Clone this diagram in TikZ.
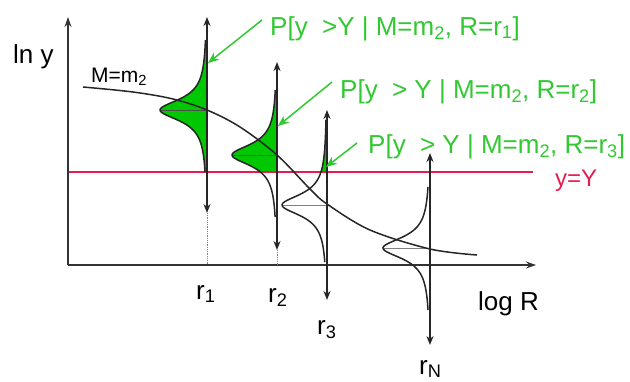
\documentclass[tikz,border=0pt]{standalone}
\usepackage{fontspec}
\setmainfont{Liberation Sans}
\usetikzlibrary{arrows.meta}
\definecolor{fillgreen}{RGB}{0,200,0}
\definecolor{txtgreen}{RGB}{50,200,50}
\definecolor{redline}{RGB}{230,30,80}
\begin{document}
\begin{tikzpicture}[x=1pt,y=-1pt,
  axisline/.style={line width=1.6pt, draw=black!80, -{Stealth[length=10pt,width=7pt]}},
  dblarrow/.style={line width=1.5pt, draw=black!85, {Stealth[length=9pt,width=7pt]}-{Stealth[length=9pt,width=7pt]}},
  pdfline/.style={line width=1.5pt, draw=black!85},
  meanline/.style={draw=gray, line width=1pt},
  guide/.style={draw=gray, densely dotted, line width=0.8pt},
  callout/.style={draw=txtgreen, line width=1.5pt, -{Stealth[length=11pt,width=9pt]}},
  lbl/.style={font=\fontsize{26}{30}\selectfont, inner sep=0pt, anchor=base west},
  glbl/.style={lbl, text=txtgreen},
]
\useasboundingbox (0,0) rectangle (630,381);

% green fills (y > Y)
\fill[fillgreen] (207,40) -- plot[domain=40:172, samples=90, variable=\t] ({207-47/(1+((\t-110)/13)^2)}, \t) -- (207,172) -- cycle;
\fill[fillgreen] (277,90) -- plot[domain=90:172, samples=80, variable=\t] ({277-45/(1+((\t-155)/13)^2)}, \t) -- (277,172) -- cycle;
\fill[fillgreen] (327,120) -- plot[domain=120:172, samples=60, variable=\t] ({327-45/(1+((\t-205)/13)^2)}, \t) -- (327,172) -- cycle;

% mean lines
\draw[meanline, draw=black!70] (160,110) -- (207,110);
\draw[meanline, draw=black!70] (232,155) -- (277,155);
\draw[meanline] (282,205) -- (327,205);
\draw[meanline] (383,248) -- (430,248);

% red threshold line
\draw[redline, line width=1.2pt] (68,172) -- (533,172);

% axes
\coordinate (O) at (68,265);
\coordinate (ytip) at (68,17);
\coordinate (xtip) at (536,265);
\draw[axisline] (O) -- (ytip);
\draw[axisline] (O) -- (xtip);

% distribution outlines
\draw[pdfline] plot[domain=40:172, samples=90, variable=\t] ({207-47/(1+((\t-110)/13)^2)}, \t);
\draw[pdfline] plot[domain=90:217, samples=90, variable=\t] ({277-45/(1+((\t-155)/13)^2)}, \t);
\draw[pdfline] plot[domain=120:262, samples=90, variable=\t] ({327-45/(1+((\t-205)/13)^2)}, \t);
\draw[pdfline] plot[domain=187:310, samples=90, variable=\t] ({430-47/(1+((\t-248)/13)^2)}, \t);

% vertical double arrows
\coordinate (d1t) at (207,17);  \coordinate (d1b) at (207,213);
\coordinate (d2t) at (277,62);  \coordinate (d2b) at (277,250);
\coordinate (d3t) at (327,110); \coordinate (d3b) at (327,300);
\coordinate (dNt) at (430,153); \coordinate (dNb) at (430,345);
\draw[dblarrow] (d1b) -- (d1t);
\draw[dblarrow] (d2b) -- (d2t);
\draw[dblarrow] (d3b) -- (d3t);
\draw[dblarrow] (dNb) -- (dNt);
\draw[guide] (d1b) -- (207,265);
\draw[guide] (d2b) -- (277,265);

% median curve M=m2
\draw[pdfline] plot[smooth, tension=0.55] coordinates {(83,87) (133,92) (173,99) (207,110) (240,127) (277,155) (310,189) (327,204) (370,230) (430,249) (477,255)};

% labels
\node[lbl] (lny) at (13,63) {ln y};
\node[lbl, font=\fontsize{21}{24}\selectfont] (mlab) at (91,82) {M=m\textsubscript{2}};
\node[lbl, text=redline, font=\fontsize{24}{28}\selectfont] (ylab) at (555,186) {y=Y};
\node[lbl] (logr) at (478,310) {log R};
\node[lbl] (r1) at (196,299) {r\textsubscript{1}};
\node[lbl] (r2) at (268,302) {r\textsubscript{2}};
\node[lbl] (r3) at (317,334) {r\textsubscript{3}};
\node[lbl] (rN) at (419,374) {r\textsubscript{N}};

\node[glbl] (p1) at (270,35) {P[y\hspace{0.55em}>Y | M=m\textsubscript{2}, R=r\textsubscript{1}]};
\node[glbl] (p2) at (340,98) {P[y\hspace{0.55em}> Y | M=m\textsubscript{2}, R=r\textsubscript{2}]};
\node[glbl] (p3) at (368,153) {P[y\hspace{0.55em}> Y | M=m\textsubscript{2}, R=r\textsubscript{3}]};

% callout arrows
\coordinate (a1s) at (262,20);  \coordinate (a1e) at (208,63);
\coordinate (a2s) at (332,82);  \coordinate (a2e) at (278,126);
\coordinate (a3s) at (357,143); \coordinate (a3e) at (326,167);
\draw[callout] (a1s) -- (a1e);
\draw[callout] (a2s) -- (a2e);
\draw[callout] (a3s) -- (a3e);
\end{tikzpicture}
\end{document}
